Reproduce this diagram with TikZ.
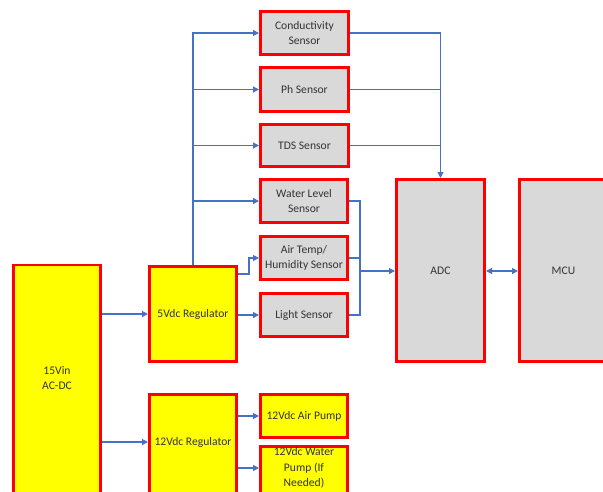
\documentclass[tikz,border=0pt]{standalone}
\usepackage{fontspec}
\setmainfont{Carlito}
\usetikzlibrary{arrows.meta,calc}
\definecolor{boxred}{HTML}{FF0000}
\definecolor{boxgray}{HTML}{D9D9D9}
\definecolor{boxyel}{HTML}{FFFF00}
\definecolor{wire}{HTML}{4472C4}
\definecolor{txt}{HTML}{333333}
\tikzset{
  blk/.style={draw=boxred, line width=2.6pt, inner sep=1pt, align=center,
    text=txt, font=\fontsize{11.6}{15.5}\selectfont},
  gbox/.style={blk, fill=boxgray},
  ybox/.style={blk, fill=boxyel},
  lbl/.style={inner sep=0pt, align=center, text=txt, font=\fontsize{11.6}{15.5}\selectfont},
  wr/.style={draw=wire, line width=1.1pt},
  arr/.style={wr, -{Triangle[width=6pt,length=6pt]}},
  arrb/.style={wr, {Triangle[width=6pt,length=6pt]}-{Triangle[width=6pt,length=6pt]}},
}
\begin{document}
\begin{tikzpicture}[x=1pt,y=-1pt]
\useasboundingbox (0,0) rectangle (603,491);
\clip (0,0) rectangle (603,491);
\fill[white] (0,0) rectangle (603,491);
% sensors
\node[gbox, minimum width=88.4pt, minimum height=43.4pt] (cond) at (304.5,33) {Conductivity\\Sensor};
\node[gbox, minimum width=88.4pt, minimum height=44.4pt] (ph) at (304.5,89.5) {Ph Sensor};
\node[gbox, minimum width=88.4pt, minimum height=42.4pt] (tds) at (304.5,145.5) {TDS Sensor};
\node[gbox, minimum width=87.4pt, minimum height=43.4pt] (water) at (304,201) {Water Level\\Sensor};
\node[gbox, minimum width=87.4pt, minimum height=43.4pt] (air) at (304,258) {Air Temp/\\Humidity Sensor};
\node[gbox, minimum width=87.4pt, minimum height=43.4pt] (light) at (304,315) {Light Sensor};
% ADC / MCU
\node[gbox, minimum width=88.4pt, minimum height=182.4pt] (adc) at (440.5,270.5) {ADC};
\node[gbox, minimum width=88.4pt, minimum height=182.4pt] (mcu) at (563.5,270.5) {MCU};
% power
\node[ybox, minimum width=87.4pt, minimum height=242.4pt] (acdc) at (57,386) {};
\node[lbl] (acdclbl) at (57,378) {15Vin\\AC-DC};
\node[ybox, minimum width=87.4pt, minimum height=95.4pt] (reg5) at (193,314) {5Vdc Regulator};
\node[ybox, minimum width=87.4pt, minimum height=114.4pt] (reg12) at (193,451.5) {};
\node[lbl] (reg12lbl) at (193,442) {12Vdc Regulator};
\node[ybox, minimum width=87.4pt, minimum height=43.4pt] (apump) at (304,416) {12Vdc Air Pump};
\node[ybox, minimum width=87.4pt, minimum height=72.4pt] (wpump) at (304,482.5) {};
\node[lbl] (wpumplbl) at (304,468) {12Vdc Water\\Pump (If\\Needed)};
% 5V distribution
\draw[arr] (reg5.north) |- (cond.west);
\draw[arr] (reg5.north) |- (ph.west);
\draw[arr] (reg5.north) |- (tds.west);
\draw[arr] (reg5.north) |- (water.west);
\coordinate (airbend) at (249,274);
\draw[arr] (reg5.east |- airbend) -- (airbend) |- (air.west);
\draw[arr] (reg5.east |- light.west) -- (light.west);
% AC-DC
\draw[arr] (acdc.east |- reg5.west) -- (reg5.west);
\draw[arr] (acdc.east |- reg12lbl) -- (reg12.west |- reg12lbl);
% 12V
\draw[arr] (reg12.east |- apump.west) -- (apump.west);
\draw[arr] (reg12.east |- wpumplbl) -- (wpump.west |- wpumplbl);
% sensors to ADC
\draw[arr] (cond.east) -| (adc.north);
\draw[wr] (ph.east) -- (ph.east -| adc.north);
\draw[wr] (tds.east) -- (tds.east -| adc.north);
\coordinate (bus) at (360,271);
\draw[wr] (water.east) -| (bus);
\draw[wr] (light.east) -| (bus);
\draw[wr] (air.east) -- (air.east -| bus);
\draw[arr] (bus) -- (adc.west |- bus);
\draw[arrb] (adc.east |- bus) -- (mcu.west |- bus);
\end{tikzpicture}
\end{document}
